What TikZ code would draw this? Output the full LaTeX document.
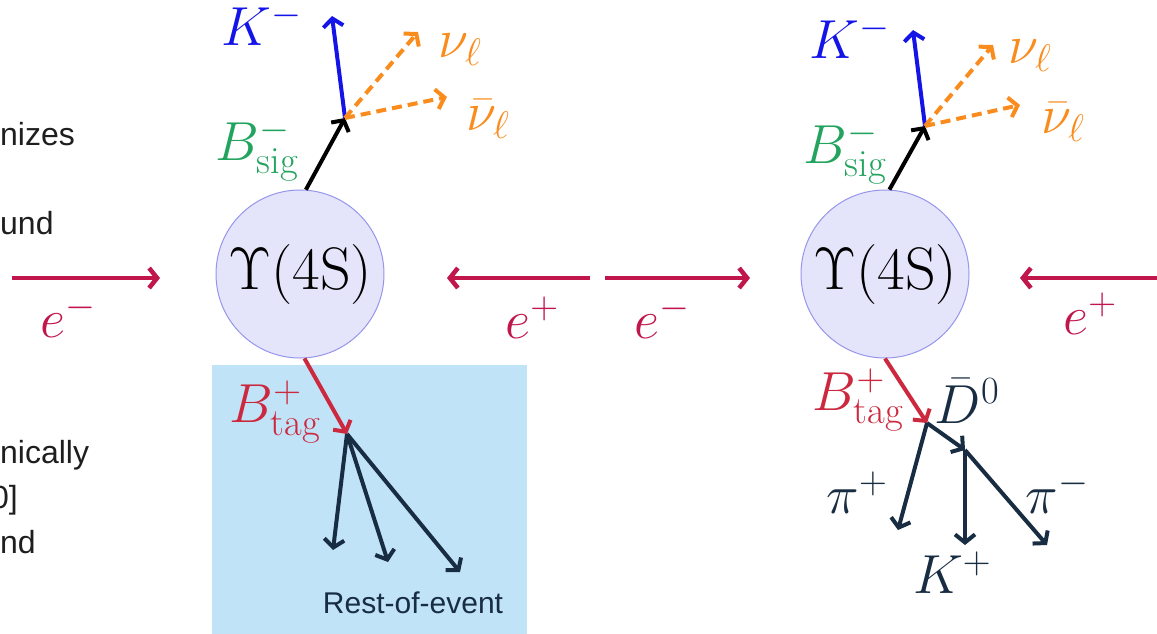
\RequirePackage{fix-cm}
\documentclass[tikz,border=0pt]{standalone}
\usepackage{fontspec}
\setsansfont{Liberation Sans}
\usetikzlibrary{arrows.meta}

\definecolor{beamred}{RGB}{192,22,76}
\definecolor{tagred}{RGB}{204,40,62}
\definecolor{siggreen}{RGB}{34,164,94}
\definecolor{kblue}{RGB}{20,20,232}
\definecolor{nuorange}{RGB}{250,140,30}
\definecolor{navy}{RGB}{24,44,66}
\definecolor{upsfill}{RGB}{228,228,250}
\definecolor{upsline}{RGB}{150,150,236}
\definecolor{roeblue}{RGB}{192,227,248}
\definecolor{slidetext}{RGB}{30,30,30}

\begin{document}
\begin{tikzpicture}[x=1pt, y=-1pt,
    tip/.style={-{Straight Barb[length=8pt,width=20pt]}},
    beam/.style={tip, line width=4.5pt, draw=beamred},
    decay/.style={tip, line width=4pt},
    nu/.style={decay, draw=nuorange, dash pattern=on 10pt off 6pt},
    lab/.style={font=\fontsize{55}{55}\selectfont, inner sep=0pt, anchor=base},
    frag/.style={font=\sffamily\fontsize{32}{32}\selectfont, text=slidetext, inner sep=0pt, anchor=base west},
    ups/.style={circle, draw=upsline, fill=upsfill, line width=1pt, minimum size=168pt, inner sep=0pt,
        font=\fontsize{60}{60}\selectfont}
]
    \clip (0,0) rectangle (1157,633);

    % slide text cut off at the left edge
    \node[frag] (f1) at (0,145) {nizes};
    \node[frag] (f2) at (0,234) {und};
    \node[frag] (f3) at (0,463) {nically};
    \node[frag] (f4) at (-9,508) {0]};
    \node[frag] (f5) at (0,553) {nd};

    % rest of event
    \fill[roeblue] (212,365) rectangle (527,640);

    \node[ups] (U1) at (300,274) {$\Upsilon(4\mathrm{S})$};
    \node[ups] (U2) at (885,274) {$\Upsilon(4\mathrm{S})$};

    % beams
    \coordinate (em1) at (12,278);   \coordinate (em1t) at (160,278);
    \coordinate (ep1) at (590,278);  \coordinate (ep1t) at (447,278);
    \coordinate (em2) at (605,278);  \coordinate (em2t) at (750,278);
    \coordinate (ep2) at (1170,278); \coordinate (ep2t) at (1020,278);
    \draw[beam] (em1) -- (em1t);
    \draw[beam] (ep1) -- (ep1t);
    \draw[beam] (em2) -- (em2t);
    \draw[beam] (ep2) -- (ep2t);
    \node[lab, text=beamred] (lem1) at (68,337) {$e^-$};
    \node[lab, text=beamred] (lep1) at (532,338) {$e^+$};
    \node[lab, text=beamred] (lem2) at (662,338) {$e^-$};
    \node[lab, text=beamred] (lep2) at (1090,334) {$e^+$};

    % signal side
    \coordinate (S1) at (345,118);
    \coordinate (K1) at (332,16);
    \coordinate (N1) at (418,32);
    \coordinate (M1) at (447,97);
    \draw[decay, draw=black] (U1.86) -- (S1);
    \draw[decay, draw=kblue] (S1) -- (K1);
    \draw[nu] (S1) -- (N1);
    \draw[nu] (S1) -- (M1);
    \node[lab, text=kblue] (lK1) at (262,45) {$K^-$};
    \node[lab, text=nuorange] (lN1) at (460,57) {$\nu_\ell$};
    \node[lab, text=nuorange] (lM1) at (488,130) {$\bar{\nu}_\ell$};
    \node[lab, text=siggreen] (lS1) at (257,160) {$B^-_{\mathrm{sig}}$};

    \coordinate (S2) at (925,126);
    \coordinate (K2) at (913,30);
    \coordinate (N2) at (993,45);
    \coordinate (M2) at (1020,105);
    \draw[decay, draw=black] (U2.87) -- (S2);
    \draw[decay, draw=kblue] (S2) -- (K2);
    \draw[nu] (S2) -- (N2);
    \draw[nu] (S2) -- (M2);
    \node[lab, text=kblue] (lK2) at (850,58) {$K^-$};
    \node[lab, text=nuorange] (lN2) at (1030,63) {$\nu_\ell$};
    \node[lab, text=nuorange] (lM2) at (1063,133) {$\bar{\nu}_\ell$};
    \node[lab, text=siggreen] (lS2) at (845,163) {$B^-_{\mathrm{sig}}$};

    % tag side, rest of event
    \coordinate (T1) at (347,434);
    \draw[decay, draw=tagred] (U1.-87) -- (T1);
    \foreach \n/\p in {1/{333,550}, 2/{388,562}, 3/{460,572}} {
        \coordinate (R\n) at (\p);
        \draw[decay, draw=navy] (T1) -- (R\n);
    }
    \node[lab, text=tagred] (lT1) at (275,422) {$B^+_{\mathrm{tag}}$};
    \node[font=\sffamily\fontsize{30}{30}\selectfont, text=navy, inner sep=0pt, anchor=base] (roe) at (413,613) {Rest-of-event};

    % tag side, hadronic
    \coordinate (T2) at (927,423);
    \coordinate (D2) at (965,450);
    \coordinate (P2) at (898,530);
    \coordinate (Kp2) at (965,545);
    \coordinate (Pm2) at (1047,545);
    \draw[decay, draw=tagred] (U2.-90) -- (T2);
    \draw[decay, draw=navy] (T2) -- (P2);
    \draw[decay, draw=navy] (T2) -- (D2);
    \draw[decay, draw=navy] (D2) -- (Kp2);
    \draw[decay, draw=navy] (D2) -- (Pm2);
    \node[lab, text=tagred] (lT2) at (858,410) {$B^+_{\mathrm{tag}}$};
    \node[lab, text=navy] (lD2) at (967,423) {$\bar{D}^0$};
    \node[lab, text=navy] (lP2) at (857,513) {$\pi^+$};
    \node[lab, text=navy] (lKp2) at (952,593) {$K^+$};
    \node[lab, text=navy] (lPm2) at (1057,513) {$\pi^-$};
\end{tikzpicture}
\end{document}
